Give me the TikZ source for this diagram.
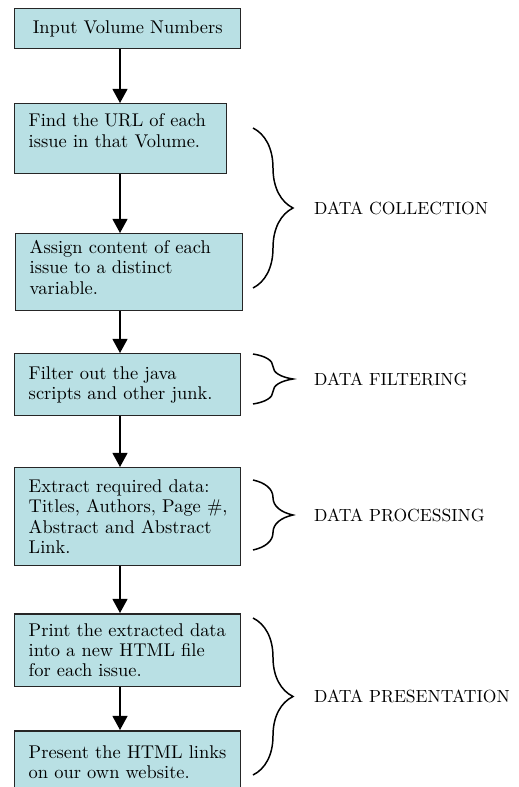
\documentclass[tikz,border=0pt]{standalone}
\usepackage{tikz}
\usetikzlibrary{arrows.meta,decorations.pathreplacing,calc}
\definecolor{stagefill}{RGB}{185,224,228}
\tikzset{stage/.style={draw=black!85,fill=stagefill,line width=0.85pt,anchor=north west,
  align=left,inner xsep=0.28cm,font=\fontsize{10.5}{11.6}\selectfont}}
\tikzset{pad/.style={execute at end node={\par\vspace{#1}}}}
\tikzset{flow/.style={line width=0.85pt,-{Triangle[width=8.5pt,length=8pt]}}}
\tikzset{grp/.style={line width=0.85pt,decorate,decoration={brace,amplitude=0.8cm}}}
\tikzset{grplabel/.style={anchor=west,font=\fontsize{10}{12}\selectfont}}

\begin{document}
\begin{tikzpicture}[x=0.02cm,y=-0.02cm]
	\useasboundingbox (0,0) rectangle (518,787);
	\clip (0,0) rectangle (518,787);
	\coordinate (spine) at (120,0);
	% the steps, top to bottom
	\node [stage,text width=3.96cm,align=center,minimum height=0.8cm] (input) at (14,8) {Input Volume Numbers};
	\node [stage,text width=3.68cm,minimum height=1.4cm,pad=0.32cm] (findurl) at (14,103) {Find the URL of each\\issue in that Volume.};
	\node [stage,text width=3.98cm,minimum height=1.54cm,pad=0.2cm] (assign) at (15,233) {Assign content of each\\issue to a distinct\\variable.};
	\node [stage,text width=3.96cm,minimum height=1.24cm] (filter) at (14,353) {Filter out the java\\scripts and other junk.};
	\node [stage,text width=3.96cm,minimum height=1.96cm] (extract) at (14,467) {Extract required data:\\\mbox{Titles, Authors, Page \#,}\\Abstract and Abstract\\Link.};
	\node [stage,text width=3.96cm,minimum height=1.46cm] (print) at (14,613) {Print the extracted data\\into a new HTML file\\for each issue.};
	\node [stage,text width=3.96cm,minimum height=1.4cm,pad=0.14cm] (present) at (14,730) {Present the HTML links\\on our own website.};

	\draw [flow] (input.south -| spine) -- (findurl.north -| spine);
	\draw [flow] (findurl.south -| spine) -- (assign.north -| spine);
	\draw [flow] (assign.south -| spine) -- (filter.north -| spine);
	\draw [flow] (filter.south -| spine) -- (extract.north -| spine);
	\draw [flow] (extract.south -| spine) -- (print.north -| spine);
	\draw [flow] (print.south -| spine) -- (present.north -| spine);

	% braces for the stages
	\coordinate (c1) at (253,128); \coordinate (c2) at (253,288);
	\coordinate (f1) at (253,354); \coordinate (f2) at (253,404);
	\coordinate (p1) at (253,480); \coordinate (p2) at (253,550);
	\coordinate (r1) at (253,618); \coordinate (r2) at (253,775);
	\draw [grp] (c1) -- (c2);
	\draw [grp] (f1) -- (f2);
	\draw [grp] (p1) -- (p2);
	\draw [grp] (r1) -- (r2);
	\node [grplabel] (collect) at ($(c1)!0.5!(c2)+(55,0)$) {DATA COLLECTION};
	\node [grplabel] (filtering) at ($(f1)!0.5!(f2)+(55,0)$) {DATA FILTERING};
	\node [grplabel] (processing) at ($(p1)!0.5!(p2)+(55,0)$) {DATA PROCESSING};
	\node [grplabel] (presenting) at ($(r1)!0.5!(r2)+(55,0)$) {DATA PRESENTATION};
\end{tikzpicture}
\end{document}
